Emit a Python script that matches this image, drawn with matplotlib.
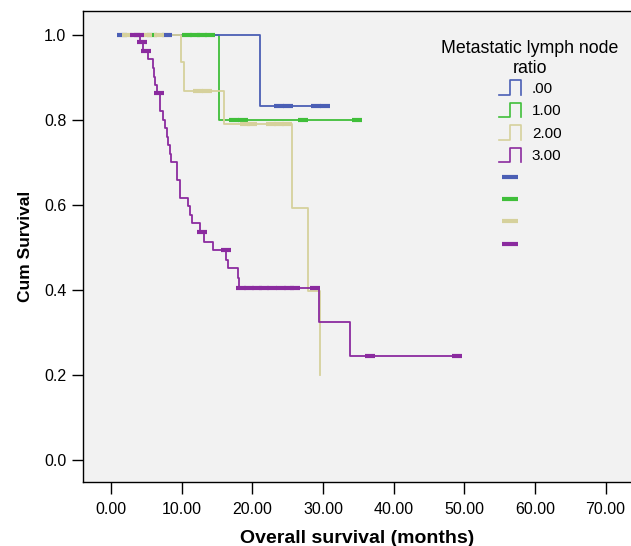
import matplotlib
matplotlib.use('Agg')
from matplotlib import pyplot as plt
from matplotlib.lines import Line2D
from matplotlib.legend_handler import HandlerBase

plt.rcParams['font.family'] = ['Liberation Sans', 'DejaVu Sans']

# groups of metastatic lymph node ratio
groups = ['.00', '1.00', '2.00', '3.00']
colors = ['#4b5fb5', '#40bf3a', '#d6d19c', '#8b2b9f']
zorders = [3, 2, 4, 5]

# step curves: time (months) and cumulative survival after each step
times_00 = [1.5, 21.0, 30.4]
surv_00 = [1.0, 0.833, 0.833]
times_10 = [5.8, 15.2, 35.0]
surv_10 = [1.0, 0.80, 0.80]
times_20 = [2.2, 9.9, 10.25, 16.0, 25.6, 27.8, 29.6]
surv_20 = [1.0, 0.935, 0.868, 0.79, 0.594, 0.398, 0.20]
times_30 = [3.2, 4.1, 4.5, 5.2, 5.9, 6.1, 6.25, 6.5, 6.85, 7.3, 7.65, 7.9, 8.1,
            8.35, 8.5, 9.3, 9.7, 10.85, 11.2, 11.45, 12.5, 13.1, 14.35, 16.3,
            16.6, 18.0, 18.1, 29.4, 33.75, 49.4]
surv_30 = [1.0, 0.982, 0.962, 0.943, 0.922, 0.902, 0.882, 0.863, 0.822, 0.80,
           0.78, 0.761, 0.741, 0.720, 0.700, 0.659, 0.617, 0.598, 0.576, 0.557,
           0.537, 0.514, 0.494, 0.471, 0.451, 0.428, 0.404, 0.324, 0.245, 0.245]

# censored observations
cens_t_00 = [1.5, 7.9, 23.8, 25.0, 29.0, 30.2]
cens_s_00 = [1.0, 1.0, 0.833, 0.833, 0.833, 0.833]
cens_t_10 = [5.8, 10.7, 11.8, 12.9, 14.0, 17.4, 18.6, 27.2, 34.8]
cens_s_10 = [1.0, 1.0, 1.0, 1.0, 1.0, 0.80, 0.80, 0.80, 0.80]
cens_t_20 = [2.2, 5.1, 6.7, 12.3, 13.6, 19.0, 20.0, 22.6, 23.8, 24.9]
cens_s_20 = [1.0, 1.0, 1.0, 0.868, 0.868, 0.79, 0.79, 0.79, 0.79, 0.79]
cens_t_30 = [3.3, 3.9, 4.3, 4.9, 6.7, 12.8, 16.3, 18.4, 19.5, 20.6, 21.7,
             22.8, 24.0, 25.1, 26.0, 28.8, 36.6, 49.0]
cens_s_30 = [1.0, 1.0, 0.982, 0.962, 0.863, 0.537, 0.494, 0.404, 0.404, 0.404,
             0.404, 0.404, 0.404, 0.404, 0.404, 0.404, 0.245, 0.245]

curve_times = [times_00, times_10, times_20, times_30]
curve_surv = [surv_00, surv_10, surv_20, surv_30]
cens_times = [cens_t_00, cens_t_10, cens_t_20, cens_t_30]
cens_surv = [cens_s_00, cens_s_10, cens_s_20, cens_s_30]

x_ticks = [0, 10, 20, 30, 40, 50, 60, 70]
y_ticks = [0.0, 0.2, 0.4, 0.6, 0.8, 1.0]


class StepHandler(HandlerBase):
    # legend icon shaped like a step: low, up, across, down
    def create_artists(self, legend, orig_handle, xdescent, ydescent,
                       width, height, fontsize, trans):
        xs = [0, 0.5, 0.5, 1, 1]
        ys = [0, 0, 1, 1, 0]
        xs = [x * width - xdescent for x in xs]
        ys = [y * height - ydescent for y in ys]
        line = Line2D(xs, ys, color=orig_handle.get_color(), lw=1.2)
        line.set_transform(trans)
        return [line]


fig = plt.figure(figsize=(6.31, 5.46), dpi=100)
ax = fig.add_axes([83 / 631, 1 - 482 / 546, 1 - 83 / 631, (482 - 11) / 546])
ax.set_facecolor('#f2f2f2')

step_handles = []
mark_handles = []
for i in range(4):
    ln, = ax.step(curve_times[i], curve_surv[i], where='post',
                  color=colors[i], lw=1.3, zorder=zorders[i])
    ax.plot(cens_times[i], cens_surv[i], ls='none', marker='_',
            markersize=6.5, mew=3.0, color=colors[i], zorder=zorders[i] + 5)
    step_handles.append(ln)
    mark_handles.append(Line2D([], [], ls='none', marker='_', markersize=11,
                               mew=3.0, color=colors[i]))

ax.set_xlim(-4, 73.6)
ax.set_ylim(-0.051, 1.056)
ax.set_xticks(x_ticks)
ax.set_xticklabels(['%.2f' % v for v in x_ticks])
ax.set_yticks(y_ticks)
ax.set_yticklabels(['%.1f' % v for v in y_ticks])
ax.tick_params(axis='x', length=8.5, width=1, pad=6, labelsize=11.5)
ax.tick_params(axis='y', length=8, width=1, pad=4, labelsize=11.5)
ax.spines['right'].set_visible(False)
for s in ['left', 'bottom', 'top']:
    ax.spines[s].set_linewidth(1)

ax.set_xlabel('Overall survival (months)', fontsize=14, fontweight='bold',
              labelpad=9)
ax.set_ylabel('Cum Survival', fontsize=12.5, fontweight='bold', labelpad=8)

handlers = {h: StepHandler() for h in step_handles}
leg = ax.legend(step_handles + mark_handles, groups + [''] * 4,
                handler_map=handlers, title='Metastatic lymph node\nratio',
                loc='upper center', bbox_to_anchor=(530 / 631, 1 - 26 / 546),
                bbox_transform=fig.transFigure, frameon=False, fontsize=11,
                title_fontsize=12.8, handlelength=1.45, handleheight=1.05,
                handletextpad=0.72, labelspacing=0.47)
leg.get_title().set_multialignment('center')
leg.get_title().set_linespacing(1.25)
leg._legend_box.sep = 2.5

fig.savefig('out.png', dpi=100)
